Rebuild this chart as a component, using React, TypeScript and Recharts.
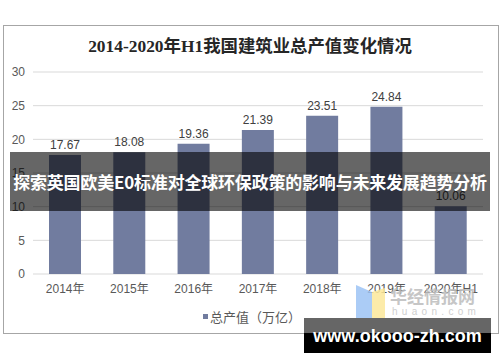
import { BarChart, Bar, XAxis, YAxis, CartesianGrid, LabelList, Legend } from "recharts";

const years = ["2014年", "2015年", "2016年", "2017年", "2018年", "2019年", "2020年H1"];
const output = [17.67, 18.08, 19.36, 21.39, 23.51, 24.84, 10.06];
const yTicks = [0, 5, 10, 15, 20, 25, 30];
const boundaryTicks = [0, 1, 2, 3, 4, 5, 6, 7];

const rows = years.map((year, i) => ({ year, value: output[i] }));

const barColor = "#717c9f";
const sans = "'Liberation Sans', Arial, 'Noto Sans CJK SC', sans-serif";
const cjk = "'Noto Sans CJK SC', 'Noto Sans', sans-serif";

function LegendBox() {
  return (
    <div style={{ display: "flex", alignItems: "center", fontFamily: cjk, fontSize: 13, color: "#595959" }}>
      <span style={{ width: 5, height: 5, background: barColor, marginRight: 2, display: "inline-block" }} />
      <span>总产值（万亿）</span>
    </div>
  );
}

export default function App() {
  return (
    <div style={{ position: "absolute", left: 0, top: 0, width: 500, height: 362, background: "#fff", overflow: "hidden" }}>
      {/* chart frame */}
      <div style={{ position: "absolute", left: 3, top: 25, width: 494, height: 307, border: "1px solid #a6a6a6" }} />
      <div
        style={{
          position: "absolute",
          left: 0,
          top: 34,
          width: 500,
          textAlign: "center",
          fontFamily: "'Liberation Serif', 'Noto Sans CJK SC', serif",
          fontWeight: "bold",
          fontSize: 17.4,
          color: "#262626",
          lineHeight: "24px",
        }}
      >
        2014-2020年H1我国建筑业总产值变化情况
      </div>

      <div style={{ position: "absolute", left: 0, top: 0 }}>
        <BarChart width={500} height={362} data={rows} margin={{ top: 72, right: 17, left: 0, bottom: 58 }}>
          <CartesianGrid vertical={false} stroke="#d9d9d9" />
          <XAxis
            xAxisId="edge"
            type="number"
            domain={[0, 7]}
            ticks={boundaryTicks}
            tick={false}
            tickSize={4}
            height={0}
            stroke="#a6a6a6"
          />
          <XAxis
            dataKey="year"
            axisLine={false}
            tickLine={false}
            tickSize={6}
            tickMargin={4}
            height={30}
            interval={0}
            tick={{ fontSize: 12, fill: "#595959", fontFamily: sans }}
          />
          <YAxis
            width={33}
            domain={[0, 30]}
            ticks={yTicks}
            axisLine={false}
            tickLine={false}
            tick={{ fontSize: 12, fill: "#595959", fontFamily: sans }}
          />
          <Legend
            layout="vertical"
            align="center"
            verticalAlign="middle"
            wrapperStyle={{ top: 307, left: 203, width: 120 }}
            content={() => <LegendBox />}
          />
          <Bar dataKey="value" fill={barColor} barSize={32} isAnimationActive={false}>
            <LabelList dataKey="value" position="top" offset={6} fill="#404040" fontSize={12} fontFamily={sans} />
          </Bar>
        </BarChart>
      </div>

      {/* overlay banner */}
      <div
        style={{
          position: "absolute",
          left: 10,
          top: 152,
          width: 480,
          height: 59,
          background: "rgba(0,0,0,0.6)",
          color: "#fff",
          fontFamily: cjk,
          fontWeight: "bold",
          fontSize: 17,
          lineHeight: "59px",
          textAlign: "center",
          whiteSpace: "nowrap",
          letterSpacing: -0.2,
        }}
      >
        探索英国欧美E0标准对全球环保政策的影响与未来发展趋势分析
      </div>

      {/* watermark */}
      <svg style={{ position: "absolute", left: 350, top: 280 }} width={140} height={42}>
        <polygon points="6,5 22,12 22,38 6,38" fill="#9cc3f5" opacity={0.85} />
        <polygon points="22,12 35,8 35,38 22,38" fill="#fbe79a" opacity={0.85} />
      </svg>
      <div
        style={{
          position: "absolute",
          left: 390,
          top: 285,
          fontFamily: cjk,
          fontWeight: "bold",
          fontSize: 17,
          color: "#bdbdbd",
          opacity: 0.85,
          lineHeight: "22px",
          whiteSpace: "nowrap",
        }}
      >
        华经情报网
      </div>
      <div
        style={{
          position: "absolute",
          left: 392,
          top: 306,
          fontFamily: sans,
          fontSize: 10,
          letterSpacing: 4.3,
          color: "#cfcfcf",
          lineHeight: "12px",
          whiteSpace: "nowrap",
        }}
      >
        huaon.com
      </div>

      {/* bottom site box */}
      <div style={{ position: "absolute", left: 304, top: 318, width: 187, height: 15, background: "rgba(0,0,0,0.6)" }} />
      <div style={{ position: "absolute", left: 304, top: 333, width: 187, height: 20, background: "#000" }} />
      <div
        style={{
          position: "absolute",
          left: 304,
          top: 324,
          width: 187,
          textAlign: "center",
          color: "#fff",
          fontFamily: sans,
          fontWeight: "bold",
          fontSize: 18,
          lineHeight: "24px",
          whiteSpace: "nowrap",
        }}
      >
        www.okooo-zh.com
      </div>
    </div>
  );
}
